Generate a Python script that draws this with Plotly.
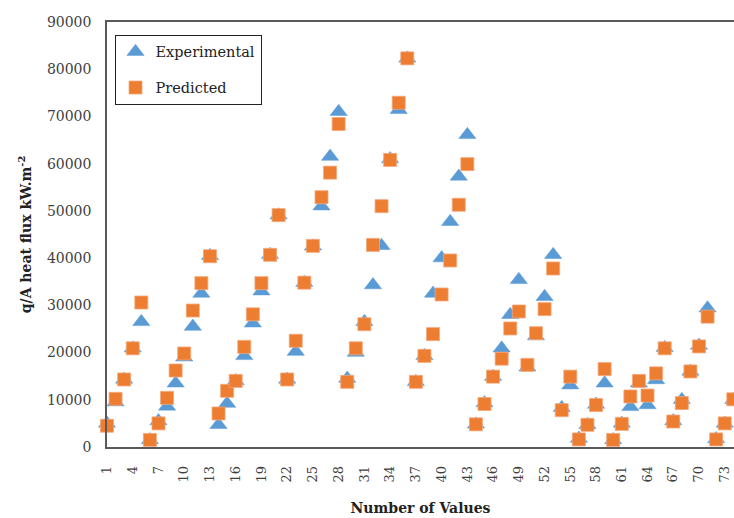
import plotly.graph_objects as go

index = list(range(1, 75))
experimental = [5000, 9500, 14300, 20900, 26500, 1500, 5500, 8600, 13500, 19000,
                25500, 32500, 40500, 4700, 9200, 14000, 19300, 26200, 33000, 40700,
                49100, 14300, 20200, 34800, 42500, 51000, 61500, 71000, 14500, 20000,
                26500, 34300, 42600, 61000, 71400, 82300, 13800, 19300, 32500, 40000,
                47700, 57300, 66100, 4800, 9300, 14900, 20900, 28000, 35400, 16900,
                23500, 31800, 40700, 8300, 13100, 1800, 4700, 9000, 13500, 1500,
                5000, 8500, 13500, 8900, 14200, 21000, 5500, 10000, 16000, 21500,
                29400, 1700, 5000, 10000]
predicted = [4500, 10200, 14300, 20900, 30600, 1500, 5000, 10400, 16200, 19800,
             28900, 34700, 40400, 7100, 11900, 14000, 21200, 28100, 34700, 40700,
             49100, 14300, 22500, 34800, 42600, 52900, 58100, 68400, 13800, 20900,
             26000, 42800, 51000, 60800, 72900, 82300, 13800, 19300, 23900, 32300,
             39500, 51300, 59900, 4800, 9100, 14900, 18700, 25100, 28700, 17400,
             24100, 29200, 37800, 7800, 14900, 1600, 4700, 8900, 16500, 1500,
             4900, 10700, 14000, 10900, 15600, 20900, 5400, 9300, 16000, 21300,
             27600, 1600, 5000, 10100]
x_ticks = list(range(1, 74, 3))
y_ticks = list(range(0, 90001, 10000))

fig = go.Figure()
fig.add_trace(go.Scatter(
    x=index, y=experimental, mode="markers", name="Experimental",
    legendgroup="a",
    marker=dict(symbol="triangle-up", size=15, color="#5B9BD5",
                line=dict(width=0.5, color="#5B9BD5")),
    cliponaxis=False))
fig.add_trace(go.Scatter(
    x=index, y=predicted, mode="markers", name="Predicted",
    legendgroup="b",
    marker=dict(symbol="square", size=13, color="#ED7D31",
                line=dict(width=0.8, color="#F4A77A")),
    cliponaxis=False))

axis_color = "#595959"
fig.update_layout(
    template="none",
    width=734, height=518,
    margin=dict(l=107, r=0, t=22, b=71, autoexpand=False),
    paper_bgcolor="white", plot_bgcolor="white",
    font=dict(family="DejaVu Serif", size=14, color="#404040"),
    showlegend=True,
    legend=dict(x=0.012, y=0.97, xanchor="left", yanchor="top",
                bordercolor="#222222", borderwidth=1, bgcolor="white",
                font=dict(family="DejaVu Serif", size=14.5, color="#222222"),
                tracegroupgap=14, itemwidth=30),
    xaxis=dict(range=[1, 74.08], tickmode="array", tickvals=x_ticks,
               ticktext=[str(t) for t in x_ticks], tickangle=-90,
               automargin=False,
               showgrid=False, zeroline=False, showline=True,
               linecolor=axis_color, linewidth=1.5, mirror=True,
               ticks="outside", ticklen=12, tickcolor="white",
               tickfont=dict(size=13),
               title=dict(text="<b>Number of Values</b>", standoff=22,
                          font=dict(family="DejaVu Serif", size=14, color="#222222"))),
    yaxis=dict(range=[0, 90000], tickmode="array", tickvals=y_ticks,
               ticktext=[str(t) for t in y_ticks],
               automargin=False,
               showgrid=False, zeroline=False, showline=True,
               linecolor=axis_color, linewidth=1.5,
               ticks="outside", ticklen=11, tickcolor="white",
               tickfont=dict(size=14),
               title=dict(text="<b>q/A heat flux kW.m<sup>-2</sup></b>", standoff=12,
                          font=dict(family="DejaVu Serif", size=14, color="#222222"))),
)

fig.write_html("out.html",
               post_script=("document.body.style.margin='0';"
                            "document.body.style.overflow='hidden';"
                            "var mb=document.querySelectorAll('.modebar-container');"
                            "for(var i=0;i<mb.length;i++){mb[i].style.display='none';}"))
